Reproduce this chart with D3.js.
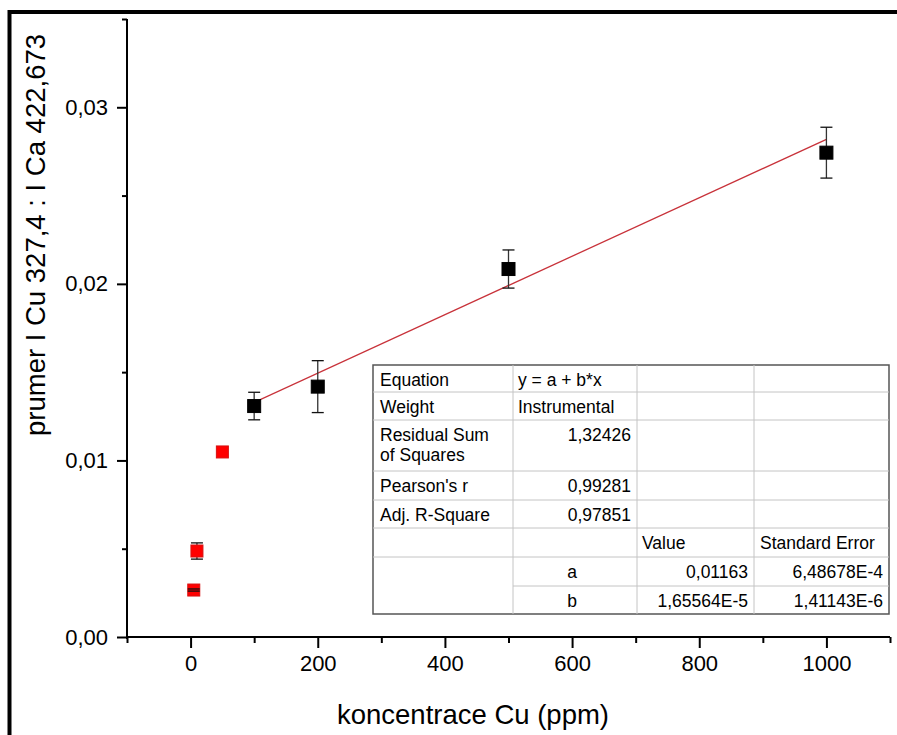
<!DOCTYPE html>
<html>
<head>
<meta charset="utf-8">
<script src="https://cdn.jsdelivr.net/npm/d3@7/dist/d3.min.js"></script>
<style>
  html, body { margin: 0; padding: 0; background: #fff; }
  svg { display: block; font-family: "Liberation Sans", Arial, sans-serif; }
</style>
</head>
<body>
<svg id="chart" width="897" height="735"></svg>
<script>
// Calibration points: Cu concentration vs. mean intensity ratio
const redConc = [5, 10, 50];
const redRatio = [0.00266, 0.00487, 0.01048];
const redErr = [0.00006, 0.00046, 0];

const blackConc = [100, 200, 500, 1000];
const blackRatio = [0.01308, 0.01418, 0.02084, 0.02743];
const blackErr = [0.00078, 0.00147, 0.00108, 0.00144];

// Linear fit y = a + b*x over the black points
const fitA = 0.01163;
const fitB = 1.65564e-5;
const fitRange = [100, 1000];

const xTicks = [0, 200, 400, 600, 800, 1000];
const xMinorTicks = [-100, 100, 300, 500, 700, 900, 1100];
const yTicks = [0, 0.01, 0.02, 0.03];
const yMinorTicks = [0.005, 0.015, 0.025, 0.035];

const xTitle = "koncentrace Cu (ppm)";
const yTitle = "prumer I Cu 327,4 : I Ca 422,673";

// Fit report table
const tableLabels = ["Equation", "Weight", "Residual Sum\nof Squares", "Pearson's r", "Adj. R-Square", "", "", ""];
const tableCol2 = ["y = a + b*x", "Instrumental", "1,32426", "0,99281", "0,97851", "", "a", "b"];
const tableCol3 = ["", "", "", "", "", "Value", "0,01163", "1,65564E-5"];
const tableCol4 = ["", "", "", "", "", "Standard Error", "6,48678E-4", "1,41143E-6"];

const svg = d3.select("#chart");

// outer frame
svg.append("rect")
  .attr("x", 9.5).attr("y", 12)
  .attr("width", 900).attr("height", 740)
  .attr("fill", "none").attr("stroke", "#000").attr("stroke-width", 4);

const x = d3.scaleLinear().domain([-100, 1100]).range([127, 890]);
const y = d3.scaleLinear().domain([0, 0.035]).range([637, 19]);

const fmt = d => d3.format(".2f")(d).replace(".", ",");

// x axis
const gx = svg.append("g").attr("transform", `translate(0,${y(0)})`);
gx.call(d3.axisBottom(x).tickValues(xMinorTicks).tickSize(6).tickFormat(""));
gx.call(g => g.select(".domain").remove());
const gx2 = svg.append("g").attr("transform", `translate(0,${y(0)})`);
gx2.call(d3.axisBottom(x).tickValues(xTicks).tickSize(11).tickSizeOuter(0).tickPadding(7).tickFormat(d3.format("d")));
svg.selectAll("g").selectAll("line").attr("stroke", "#000").attr("stroke-width", 2);
gx2.select(".domain").attr("stroke-width", 2).attr("d", `M${x(-100)},0H${x(1100)}`);
gx2.selectAll("text").attr("font-size", 22).attr("fill", "#000")
  .attr("font-family", "'Liberation Sans', Arial, sans-serif");

// y axis
const gy = svg.append("g").attr("transform", `translate(${x(-100)},0)`);
gy.call(d3.axisLeft(y).tickValues(yMinorTicks).tickSize(5).tickFormat(""));
gy.call(g => g.select(".domain").remove());
const gy2 = svg.append("g").attr("transform", `translate(${x(-100)},0)`);
gy2.call(d3.axisLeft(y).tickValues(yTicks).tickSize(10).tickSizeOuter(0).tickPadding(9).tickFormat(fmt));
gy2.select(".domain").attr("stroke-width", 2).attr("d", `M0,${y(0.035)}V${y(0) + 2}`);
svg.selectAll("g .tick line").attr("stroke", "#000").attr("stroke-width", 2);
gy2.selectAll("text").attr("font-size", 22).attr("fill", "#000")
  .attr("font-family", "'Liberation Sans', Arial, sans-serif");

// axis titles
svg.append("text")
  .attr("x", 473).attr("y", 724)
  .attr("text-anchor", "middle").attr("font-size", 27.5)
  .text(xTitle);
svg.append("text")
  .attr("transform", "translate(45,235) rotate(-90)")
  .attr("text-anchor", "middle").attr("font-size", 27.5)
  .text(yTitle);

// fit line
svg.append("line")
  .attr("x1", x(fitRange[0])).attr("y1", y(fitA + fitB * fitRange[0]))
  .attr("x2", x(fitRange[1])).attr("y2", y(fitA + fitB * fitRange[1]))
  .attr("stroke", "#c8323a").attr("stroke-width", 1.3);

function series(conc, vals, errs, fill, stroke, size) {
  const pts = conc.map((c, i) => ({ c, v: vals[i], e: errs[i] }));
  const withErr = pts.filter(d => d.e > 0);
  const g = svg.append("g");
  // error bar stems
  g.selectAll("line.stem").data(withErr).join("line")
    .attr("x1", d => x(d.c)).attr("x2", d => x(d.c))
    .attr("y1", d => y(d.v - d.e)).attr("y2", d => y(d.v + d.e))
    .attr("stroke", "#333").attr("stroke-width", 1.3);
  // markers
  g.selectAll("rect").data(pts).join("rect")
    .attr("x", d => x(d.c) - size / 2).attr("y", d => y(d.v) - size / 2)
    .attr("width", size).attr("height", size)
    .attr("fill", fill).attr("stroke", stroke).attr("stroke-width", 1);
  // caps
  const caps = withErr.flatMap(d => [{ c: d.c, v: d.v - d.e }, { c: d.c, v: d.v + d.e }]);
  g.selectAll("line.cap").data(caps).join("line")
    .attr("x1", d => x(d.c) - 6).attr("x2", d => x(d.c) + 6)
    .attr("y1", d => y(d.v)).attr("y2", d => y(d.v))
    .attr("stroke", "#111").attr("stroke-width", 1.3);
}
series(redConc, redRatio, redErr, "#ff0000", "#d81010", 12);
series(blackConc, blackRatio, blackErr, "#000", "#000", 13);

// fit report table
const colX = [373, 513, 637, 754, 889];
const rowY = [365, 392, 420, 471, 500, 528, 557, 586, 614];
const tbl = svg.append("g").attr("font-size", 17.5).attr("fill", "#000");
tbl.append("rect")
  .attr("x", colX[0]).attr("y", rowY[0])
  .attr("width", colX[4] - colX[0]).attr("height", rowY[8] - rowY[0])
  .attr("fill", "#fff").attr("stroke", "#555").attr("stroke-width", 1.5);
rowY.slice(1, -1).forEach((ry, i) => {
  const startX = (i === 6) ? colX[1] : colX[0];
  tbl.append("line").attr("x1", startX).attr("x2", colX[4])
    .attr("y1", ry).attr("y2", ry).attr("stroke", "#c4c4c4").attr("stroke-width", 1);
});
colX.slice(1, -1).forEach(cx => {
  tbl.append("line").attr("x1", cx).attr("x2", cx)
    .attr("y1", rowY[0]).attr("y2", rowY[8]).attr("stroke", "#c4c4c4").attr("stroke-width", 1);
});

tableLabels.forEach((t, i) => {
  t.split("\n").forEach((line, j) => {
    tbl.append("text").attr("x", colX[0] + 7).attr("y", rowY[i] + 21 + j * 20).text(line);
  });
});
tableCol2.forEach((t, i) => {
  if (!t) return;
  const txt = tbl.append("text").attr("y", rowY[i] + 21).text(t);
  if (i < 2) txt.attr("x", colX[1] + 5);
  else if (i < 5) txt.attr("x", colX[2] - 6).attr("text-anchor", "end");
  else txt.attr("x", (colX[1] + colX[2]) / 2 - 3).attr("text-anchor", "middle");
});
tableCol3.forEach((t, i) => {
  if (!t) return;
  const txt = tbl.append("text").attr("y", rowY[i] + 21).text(t);
  if (i === 5) txt.attr("x", colX[2] + 5);
  else txt.attr("x", colX[3] - 6).attr("text-anchor", "end");
});
tableCol4.forEach((t, i) => {
  if (!t) return;
  const txt = tbl.append("text").attr("y", rowY[i] + 21).text(t);
  if (i === 5) txt.attr("x", colX[3] + 6);
  else txt.attr("x", colX[4] - 6).attr("text-anchor", "end");
});
</script>
</body>
</html>
